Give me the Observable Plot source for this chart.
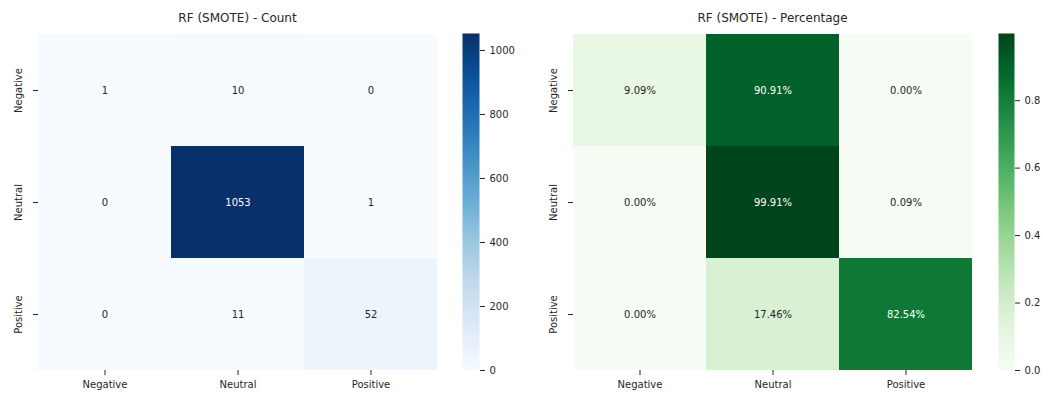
<!DOCTYPE html>
<html><head><meta charset="utf-8">
<script src="https://cdn.jsdelivr.net/npm/d3@7"></script>
<script src="https://cdn.jsdelivr.net/npm/@observablehq/plot@0.6"></script>
<style>
body{margin:0;background:#fff;font-family:"DejaVu Sans",sans-serif;}
#wrap{position:relative;width:1042px;height:396px;overflow:hidden;background:#fff;}
.p{position:absolute;top:0;}
.p svg{display:block;max-width:none !important;}
.t{position:absolute;top:11px;font-size:12px;line-height:14px;color:#262626;transform:translateX(-50%);white-space:nowrap;font-family:"DejaVu Sans",sans-serif;}
</style></head><body><div id="wrap"></div>
<script>
const classes = ["Negative", "Neutral", "Positive"];
const countValues = [[1, 10, 0], [0, 1053, 1], [0, 11, 52]];
const pctValues = [[0.0909, 0.9091, 0.0], [0.0, 0.9991, 0.0009], [0.0, 0.1746, 0.8254]];
const countTicks = [0, 200, 400, 600, 800, 1000];
const pctTicks = [0, 0.2, 0.4, 0.6, 0.8];
const countMax = 1053;
const pctMax = 0.9991;
const titles = ["RF (SMOTE) - Count", "RF (SMOTE) - Percentage"];

const TXT = "#262626";
const baseStyle = {fontFamily: "DejaVu Sans", fontSize: "10px", color: TXT, background: "transparent", overflow: "visible", maxWidth: "none"};

function heatmap({values, scheme, max, fmt, width, ml, mr}) {
  const data = values.flatMap((row, i) => row.map((v, j) => ({actual: classes[i], pred: classes[j], v})));
  const dark = data.filter(d => d.v > max / 2);
  const light = data.filter(d => d.v <= max / 2);
  return Plot.plot({
    width, height: 396, marginLeft: ml, marginRight: mr, marginTop: 33, marginBottom: 26,
    style: baseStyle,
    x: {domain: classes, padding: 0, label: null},
    y: {domain: classes, padding: 0, label: null},
    color: {type: "linear", scheme, domain: [0, max]},
    marks: [
      Plot.cell(data, {x: "pred", y: "actual", fill: "v"}),
      Plot.text(light, {x: "pred", y: "actual", text: d => fmt(d.v), fill: TXT, fontSize: 10}),
      Plot.text(dark, {x: "pred", y: "actual", text: d => fmt(d.v), fill: "white", fontSize: 10}),
      Plot.axisX({tickSize: 5, tickPadding: 5, label: null, fontSize: 10}),
      Plot.axisY({tickSize: 5, tickFormat: () => "", label: null}),
      Plot.text(classes, {y: d => d, frameAnchor: "left", dx: -20, rotate: -90, textAnchor: "middle", fill: TXT, fontSize: 10})
    ]
  });
}

function colorbar({scheme, max, ticks, fmt, width, mr}) {
  return Plot.plot({
    width, height: 396, marginLeft: 0, marginRight: mr, marginTop: 33, marginBottom: 26,
    style: baseStyle,
    x: {domain: [0, 1], axis: null},
    y: {domain: [0, max], label: null, axis: null},
    color: {type: "linear", scheme, domain: [0, max]},
    marks: [
      Plot.raster({x1: 0, x2: 1, y1: 0, y2: max, fill: (x, y) => y, pixelSize: 1}),
      Plot.axisY({anchor: "right", ticks, tickFormat: fmt, tickSize: 5, tickPadding: 5, label: null, fontSize: 10})
    ]
  });
}

const wrap = document.getElementById("wrap");
function place(el, left) {
  const d = document.createElement("div");
  d.className = "p";
  d.style.left = left + "px";
  d.appendChild(el);
  wrap.appendChild(d);
}
function title(text, cx) {
  const d = document.createElement("div");
  d.className = "t";
  d.style.left = cx + "px";
  d.textContent = text;
  wrap.appendChild(d);
}

place(heatmap({values: countValues, scheme: "blues", max: countMax, fmt: d => String(d), width: 462, ml: 38, mr: 25}), 0);
place(colorbar({scheme: "blues", max: countMax, ticks: countTicks, fmt: d => String(d), width: 60, mr: 43}), 462);
place(heatmap({values: pctValues, scheme: "greens", max: pctMax, fmt: d3.format(".2%"), width: 478, ml: 53, mr: 26}), 520);
place(colorbar({scheme: "greens", max: pctMax, ticks: pctTicks, fmt: d3.format(".1f"), width: 60, mr: 44}), 998);
title(titles[0], 237.5);
title(titles[1], 772.5);
</script>
</body></html>
